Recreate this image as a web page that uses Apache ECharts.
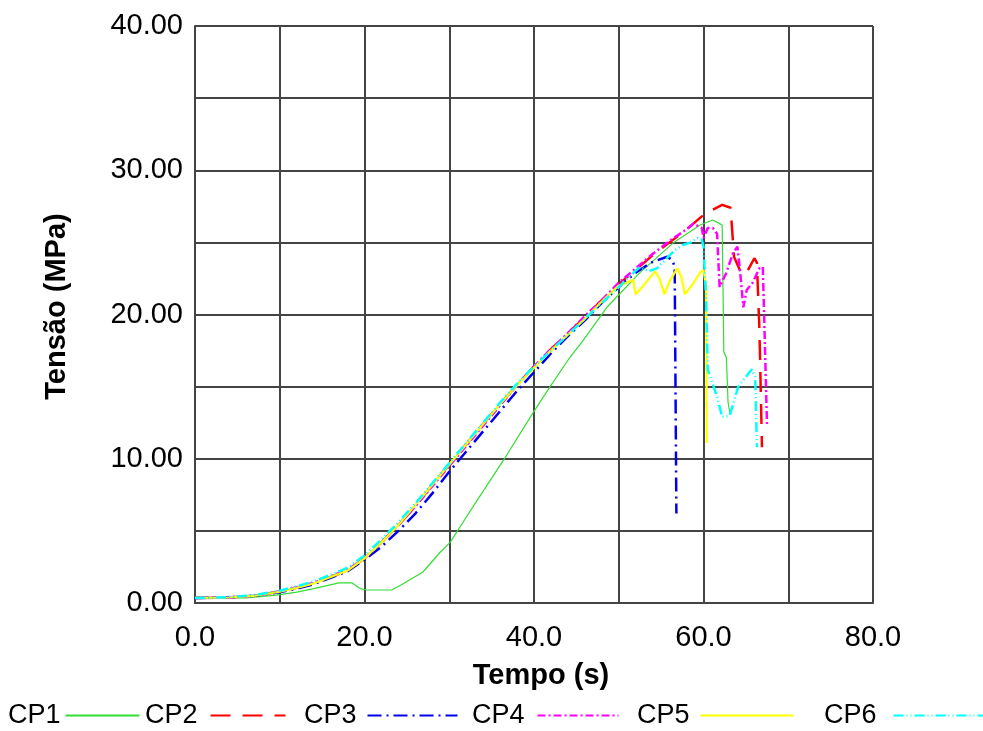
<!DOCTYPE html>
<html>
<head>
<meta charset="utf-8">
<script src="https://cdn.jsdelivr.net/npm/echarts@6/dist/echarts.min.js"></script>
<style>
html,body{margin:0;padding:0;background:#fff;}
#chart{width:983px;height:731px;}
</style>
</head>
<body>
<div id="chart"></div>
<script>
// ---- Data (time in s, stress in MPa) ----
var seriesNames = ['CP1', 'CP2', 'CP3', 'CP4', 'CP5', 'CP6'];
var xTicks = ['0.0', '20.0', '40.0', '60.0', '80.0'];
var yTicks = ['0.00', '10.00', '20.00', '30.00', '40.00'];

var cp1_t = [0, 6, 9.6, 12, 14, 17, 18.5, 19.5, 20.3, 23.2, 24.3, 26.9, 28.9, 30.1, 31.3, 33.5, 36.4, 39.9, 41.9, 44.2, 45.8, 48.6, 52.5, 56.4, 59.6, 61.1, 61.9, 62.2, 62.4, 62.7, 62.9, 63.1, 63.5];
var cp1_s = [0.35, 0.35, 0.55, 0.75, 1.0, 1.4, 1.4, 1.0, 0.9, 0.9, 1.25, 2.15, 3.5, 4.2, 5.3, 7.3, 9.9, 13.2, 15.0, 17.0, 18.2, 20.5, 22.9, 24.95, 26.2, 26.55, 26.3, 26.2, 17.4, 17.0, 13.9, 13.2, 13.6];

var cp2_t = [0, 4, 7, 10, 12, 14, 16, 18, 20, 22, 24, 26, 28, 30, 32, 34, 36, 38, 40, 42, 44, 46, 48, 50, 52, 54, 56, 58, 58.8, 60.2, 62.2, 63.2, 63.6, 64.5, 65.0, 66.0, 66.3, 66.6, 66.9];
var cp2_s = [0.35, 0.38, 0.5, 0.8, 1.05, 1.35, 1.8, 2.25, 3.1, 4.2, 5.4, 6.7, 8.2, 9.6, 11.0, 12.4, 13.8, 15.1, 16.4, 17.6, 18.7, 19.8, 21.0, 22.1, 23.1, 24.1, 25.0, 25.9, 26.3, 27.0, 27.6, 27.4, 24.0, 22.8, 22.8, 23.9, 23.6, 18.9, 10.8];

var cp3_t = [0, 4, 7, 10, 12, 14, 16, 18, 20, 22, 24, 26, 28, 30, 32, 34, 36, 38, 40, 42, 44, 46, 48, 50, 52, 53.8, 55.7, 56.3, 56.6, 56.8];
var cp3_s = [0.35, 0.38, 0.5, 0.75, 1.0, 1.3, 1.75, 2.2, 3.0, 3.9, 5.0, 6.2, 7.6, 9.1, 10.5, 11.9, 13.3, 14.7, 16.0, 17.3, 18.5, 19.6, 20.8, 21.9, 22.9, 23.6, 24.0, 23.8, 23.3, 6.2];

var cp4_t = [0, 4, 7, 10, 12, 14, 16, 18, 20, 22, 24, 26, 28, 30, 32, 34, 36, 38, 40, 42, 44, 46, 48, 50, 52, 54, 56, 58, 58.8, 59.8, 60.0, 60.5, 61.1, 61.6, 61.9, 62.7, 63.5, 64.0, 64.3, 64.7, 65.1, 65.8, 66.6, 67.0, 67.2, 67.5];
var cp4_s = [0.35, 0.38, 0.5, 0.8, 1.1, 1.4, 1.85, 2.3, 3.1, 4.2, 5.4, 6.7, 8.1, 9.5, 10.9, 12.3, 13.7, 15.1, 16.4, 17.6, 18.7, 19.9, 21.0, 22.2, 23.2, 24.2, 25.1, 25.9, 26.3, 26.0, 25.3, 26.0, 26.0, 25.6, 21.9, 22.9, 24.3, 24.7, 23.1, 20.5, 21.7, 22.2, 23.2, 23.3, 18.9, 12.2];

var cp5_t = [0, 4, 7, 10, 12, 14, 16, 18, 20, 22, 24, 26, 28, 30, 32, 34, 36, 38, 40, 42, 44, 46, 48, 50, 51.7, 52.0, 52.9, 54.3, 54.8, 55.4, 56.0, 56.9, 57.4, 57.8, 58.6, 59.6, 60.0, 60.3, 60.4];
var cp5_s = [0.35, 0.38, 0.5, 0.78, 1.05, 1.35, 1.8, 2.25, 3.1, 4.2, 5.4, 6.8, 8.2, 9.6, 11.0, 12.4, 13.8, 15.1, 16.3, 17.5, 18.6, 19.7, 20.9, 22.0, 22.4, 21.4, 22.0, 23.0, 22.5, 21.4, 22.3, 23.2, 22.6, 21.4, 22.0, 22.9, 23.1, 22.0, 11.1];

var cp6_t = [0, 4, 7, 10, 12, 14, 16, 18, 20, 22, 24, 26, 28, 30, 32, 34, 36, 38, 40, 42, 44, 46, 48, 50, 51, 52.5, 53.5, 54.5, 55.5, 56.5, 57.5, 58.5, 59.3, 59.8, 60.0, 60.3, 60.5, 61.6, 62.2, 63.1, 64.1, 65.7, 66.1, 66.3];
var cp6_s = [0.35, 0.4, 0.55, 0.85, 1.15, 1.5, 1.95, 2.45, 3.3, 4.4, 5.6, 6.9, 8.3, 9.7, 11.1, 12.5, 13.9, 15.2, 16.4, 17.5, 18.6, 19.7, 20.8, 21.9, 22.5, 23.3, 23.0, 23.2, 23.8, 24.4, 24.8, 25.0, 25.3, 25.2, 24.7, 21.2, 16.2, 14.3, 12.9, 13.0, 15.0, 16.2, 15.7, 10.8];

var colors = ['#33dd33', '#ff0000', '#0000ee', '#ff00ff', '#ffff00', '#00ffff'];
var dashes = ['solid', [20, 12], [14, 5, 2, 5], [8, 3, 2, 3], 'solid', [10, 3, 1, 3, 1, 3]];
var widths = [1.2, 2.5, 2.5, 2.5, 2.2, 2.5];

function zip(t, s) { return t.map(function (v, i) { return [v, s[i]]; }); }
var allT = [cp1_t, cp2_t, cp3_t, cp4_t, cp5_t, cp6_t];
var allS = [cp1_s, cp2_s, cp3_s, cp4_s, cp5_s, cp6_s];

var font = 'Liberation Sans, Arial, sans-serif';

var series = seriesNames.map(function (n, i) {
  return {
    name: n, type: 'line', data: zip(allT[i], allS[i]),
    symbol: 'none', showSymbol: false, smooth: false, z: 3 + i,
    lineStyle: { color: colors[i], width: widths[i], type: dashes[i] },
    itemStyle: { color: colors[i] }
  };
});

var legendPos = [
  { left: 8, w: 74, pad: 0 }, { left: 145, w: 75, pad: 8 }, { left: 304, w: 90, pad: 6 },
  { left: 472, w: 81, pad: 8 }, { left: 637, w: 93, pad: 6 }, { left: 824, w: 90, pad: 12 }
];
var legends = seriesNames.map(function (n, i) {
  return {
    data: [n], left: legendPos[i].left, top: 702, align: 'right', orient: 'horizontal',
    padding: 0, itemWidth: legendPos[i].w, itemHeight: 14, itemGap: 0, selectedMode: false,
    itemStyle: { opacity: 0 },
    textStyle: { fontSize: 27, fontFamily: font, color: '#000', padding: [0, legendPos[i].pad, 0, 0] }
  };
});

var chart = echarts.init(document.getElementById('chart'), null, { renderer: 'canvas' });
chart.setOption({
  animation: false,
  backgroundColor: '#fff',
  grid: { left: 195, right: 110, top: 26, bottom: 128, containLabel: false },
  legend: legends,
  xAxis: {
    type: 'value', min: 0, max: 80, interval: 10,
    name: 'Tempo (s)', nameLocation: 'middle', nameGap: 58,
    nameTextStyle: { fontSize: 29, fontWeight: 'bold', fontFamily: font, color: '#000', padding: [0, 0, 0, 14] },
    axisLine: { show: true, lineStyle: { color: '#444', width: 2 } },
    axisTick: { show: false },
    axisLabel: {
      fontSize: 29, fontFamily: font, color: '#000', margin: 20,
      formatter: function (v) { var k = xTicks.indexOf(v.toFixed(1)); return (v % 20 === 0 && k >= 0) ? xTicks[k] : ''; }
    },
    splitLine: { show: true, lineStyle: { color: '#444', width: 2 } }
  },
  yAxis: {
    type: 'value', min: 0, max: 40, interval: 5,
    name: 'Tensão (MPa)', nameLocation: 'middle', nameGap: 124,
    nameTextStyle: { fontSize: 29, fontWeight: 'bold', fontFamily: font, color: '#000', padding: [0, 0, 0, 16] },
    axisLine: { show: true, lineStyle: { color: '#444', width: 2 } },
    axisTick: { show: false },
    axisLabel: {
      fontSize: 29, fontFamily: font, color: '#000', margin: 12,
      formatter: function (v) { var k = yTicks.indexOf(v.toFixed(2)); return (v % 10 === 0 && k >= 0) ? yTicks[k] : ''; }
    },
    splitLine: { show: true, lineStyle: { color: '#444', width: 2 } }
  },
  series: series
});
</script>
</body>
</html>
